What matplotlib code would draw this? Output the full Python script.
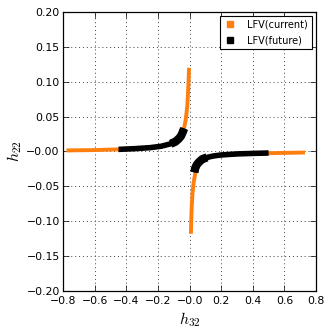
import matplotlib
matplotlib.use('Agg')
import matplotlib.pyplot as plt
from matplotlib.lines import Line2D
from matplotlib.ticker import FuncFormatter
import numpy as np

plt.rcParams['mathtext.fontset'] = 'cm'
plt.rcParams['font.family'] = 'DejaVu Sans'

# LFV(current) - orange, branch with h32 < 0
cur_left_x = [-0.78, -0.6, -0.45, -0.3, -0.2, -0.15, -0.1, -0.07, -0.05, -0.035, -0.025, -0.015, -0.01, -0.006, -0.004]
cur_left_y = [0.0015, 0.002, 0.003, 0.0045, 0.0068, 0.009, 0.013, 0.018, 0.025, 0.034, 0.045, 0.065, 0.085, 0.105, 0.12]
# LFV(current) - orange, branch with h32 > 0
cur_right_x = [0.008, 0.01, 0.013, 0.018, 0.025, 0.035, 0.05, 0.07, 0.1, 0.15, 0.2, 0.3, 0.4, 0.5, 0.6, 0.73]
cur_right_y = [-0.118, -0.1, -0.08, -0.06, -0.045, -0.032, -0.022, -0.015, -0.01, -0.007, -0.0055, -0.004, -0.003, -0.0025, -0.002, -0.0015]

# LFV(future) - black
fut_left_x = [-0.45, -0.35, -0.25, -0.18, -0.12, -0.09, -0.07, -0.055, -0.045, -0.035]
fut_left_y = [0.003, 0.004, 0.0055, 0.0075, 0.011, 0.014, 0.018, 0.022, 0.027, 0.033]
fut_right_x = [0.03, 0.035, 0.045, 0.06, 0.08, 0.11, 0.15, 0.2, 0.3, 0.4, 0.5]
fut_right_y = [-0.03, -0.024, -0.019, -0.015, -0.011, -0.0085, -0.0065, -0.005, -0.0035, -0.0028, -0.0022]

orange = '#ff7f0e'

fig = plt.figure(figsize=(3.33, 3.34), dpi=100)
ax = fig.add_axes([0.19, 0.129, 0.759, 0.835])

ax.plot(cur_left_x, cur_left_y, '-', color=orange, lw=2.8, solid_capstyle='butt')
ax.plot(cur_right_x, cur_right_y, '-', color=orange, lw=2.8, solid_capstyle='butt')
ax.plot(fut_left_x, fut_left_y, '-', color='black', lw=4.0, solid_capstyle='butt')
ax.plot(fut_right_x, fut_right_y, '-', color='black', lw=4.0, solid_capstyle='butt')
# wider spread of the future points close to the origin
ax.plot(fut_left_x[4:], fut_left_y[4:], '-', color='black', lw=6.0, solid_capstyle='butt')
ax.plot(fut_right_x[:6], fut_right_y[:6], '-', color='black', lw=6.0, solid_capstyle='butt')

ax.set_xlim(-0.8, 0.8)
ax.set_ylim(-0.2, 0.2)
ax.set_xticks(np.arange(-0.8, 0.81, 0.2))
ax.set_yticks(np.arange(-0.2, 0.201, 0.05))
ax.xaxis.set_major_formatter(FuncFormatter(lambda v, p: ('%.1f' % v).replace('-', '\u2212')))
ax.yaxis.set_major_formatter(FuncFormatter(lambda v, p: ('%.2f' % v).replace('-', '\u2212')))
ax.tick_params(direction='in', top=True, right=True, labelsize=7.8, length=4, width=0.5)
ax.tick_params(axis='x', pad=3.5)
ax.tick_params(axis='y', pad=2.5)
ax.grid(True, color='0.25', linestyle=(0, (1, 3)), linewidth=0.7)
for s in ax.spines.values():
    s.set_linewidth(0.9)

ax.set_xlabel('$h_{32}$', fontsize=11.5, labelpad=3)
ax.set_ylabel('$h_{22}$', fontsize=11.5)
ax.yaxis.set_label_coords(-0.155, 0.5)

handles = [Line2D([], [], linestyle='none', marker='s', ms=5, color=orange, mec=orange),
           Line2D([], [], linestyle='none', marker='s', ms=5, color='black', mec='black')]
leg = ax.legend(handles, ['LFV(current)', 'LFV(future)'], loc='upper right', fontsize=7,
                fancybox=False, framealpha=1, edgecolor='black', borderaxespad=0.45,
                handletextpad=1.0, labelspacing=0.55, handlelength=1.5, borderpad=0.35)
leg.get_frame().set_linewidth(0.8)

fig.savefig('out.png', dpi=100)
